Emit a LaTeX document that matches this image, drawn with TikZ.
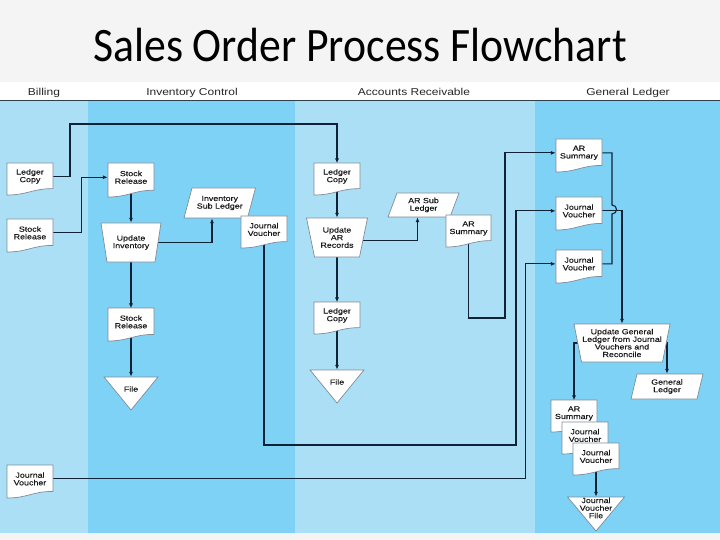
\documentclass[tikz,border=0pt]{standalone}
\usepackage{fontspec}
\setmainfont{Liberation Sans}
\newfontfamily\labfont[FakeStretch=1.2,FakeBold=0.3]{Liberation Sans}
\newfontfamily\headfont[FakeStretch=1.2]{Liberation Sans}
\newfontfamily\titlefont[FakeStretch=0.91]{Carlito}
\usetikzlibrary{arrows.meta,calc}
\pgfdeclarelayer{lanes}
\pgfdeclarelayer{links}
\pgfsetlayers{lanes,links,main}
\definecolor{lightlane}{HTML}{ABDFF6}
\definecolor{midlane}{HTML}{7ED2F5}
\definecolor{pagegray}{HTML}{F4F4F4}
\definecolor{rulecol}{HTML}{2E3F4F}
\definecolor{linkcol}{HTML}{0F2236}
\definecolor{edgecol}{HTML}{7D8C98}
\tikzset{
  shp/.style={draw=edgecol, fill=white, line width=0.7pt, line join=miter},
  txt/.style={font=\labfont\fontsize{7.4}{7.6}\selectfont, align=center, inner sep=0pt, text=black!90},
  link/.style={draw=linkcol, line width=1.1pt},
  arr/.style={link, -{Latex[length=5pt,width=4pt]}},
  lanehead/.style={font=\headfont\fontsize{10}{12}\selectfont, anchor=base, inner sep=0pt, text=black!85},
  titletext/.style={font=\titlefont\fontsize{48}{50}\selectfont, anchor=base, inner sep=0pt, text=black},
}
% document: name, x0, y0, w, h, text
\newcommand\docbox[6]{%
  \filldraw[shp] (#2,#3) -- ({#2+#4},#3) -- ({#2+#4},{#3+0.8*#5})
    .. controls ({#2+0.55*#4},{#3+0.8*#5}) and ({#2+0.45*#4},{#3+#5}) .. (#2,{#3+#5}) -- cycle;
  \node[txt, minimum width=#4, minimum height={0.8*#5}] (#1) at ({#2+#4/2},{#3+0.42*#5}) {#6};
}
% manual operation: name, cx, y0, wtop, wbot, h, text
\newcommand\trapbox[7]{%
  \filldraw[shp] ({#2-#4/2},#3) -- ({#2+#4/2},#3) -- ({#2+#5/2},{#3+#6}) -- ({#2-#5/2},{#3+#6}) -- cycle;
  \node[txt, minimum width=#5, minimum height=#6] (#1) at (#2,{#3+#6/2}) {#7};
}
% ledger parallelogram: name, cx, y0, w, h, slant, text
\newcommand\parabox[7]{%
  \filldraw[shp] ({#2-#4/2+#6/2},#3) -- ({#2+#4/2+#6/2},#3) -- ({#2+#4/2-#6/2},{#3+#5}) -- ({#2-#4/2-#6/2},{#3+#5}) -- cycle;
  \node[txt, minimum width={#4-#6}, minimum height=#5] (#1) at (#2,{#3+#5/2}) {#7};
}
% file triangle: name, cx, y0, w, h, text, text y
\newcommand\tribox[7]{%
  \filldraw[shp] ({#2-#4/2},#3) -- ({#2+#4/2},#3) -- (#2,{#3+#5}) -- cycle;
  \node[txt, minimum width=#4, minimum height=#5] (#1) at (#2,{#3+#5/2}) {};
  \node[txt] (#1-label) at (#2,#7) {#6};
}
\begin{document}
\begin{tikzpicture}[x=1pt,y=-1pt]
\useasboundingbox (0,0) rectangle (720,540);
\begin{pgfonlayer}{lanes}
  \fill[pagegray] (0,0) rectangle (720,540);
  \fill[white] (0,82) rectangle (720,100);
  \fill[lightlane] (0,101) rectangle (88,533);
  \fill[midlane] (88,101) rectangle (295,533);
  \fill[lightlane] (295,101) rectangle (535,533);
  \fill[midlane] (535,101) rectangle (720,533);
  \draw[rulecol, line width=1.4pt] (0,100.5) -- (720,100.5);
\end{pgfonlayer}

\node[titletext] (title) at (360,62) {Sales Order Process Flowchart};
\node[lanehead] (hbill) at (44,95.5) {Billing};
\node[lanehead] (hinv) at (192,95.5) {Inventory Control};
\node[lanehead] (har) at (414,95.5) {Accounts Receivable};
\node[lanehead] (hgl) at (628,95.5) {General Ledger};

% Billing
\docbox{lcB}{7}{163}{46}{32}{Ledger\\Copy}
\docbox{srB}{7}{219}{46}{33}{Stock\\Release}
\docbox{jvB}{7}{465}{46}{33}{Journal\\Voucher}
% Inventory control
\docbox{srI}{108}{163}{46}{34}{Stock\\Release}
\trapbox{upInv}{131}{223}{60}{48}{39}{Update\\Inventory}
\parabox{isl}{219.75}{188}{63.5}{30}{8}{Inventory\\Sub Ledger}
\docbox{jvI}{241}{216}{46}{32}{Journal\\Voucher}
\docbox{srI2}{108}{308}{46}{33}{Stock\\Release}
\tribox{fileI}{131}{377}{54}{33}{File}{389}
% Accounts receivable
\docbox{lcA}{314}{163}{46}{32}{Ledger\\Copy}
\trapbox{upAR}{337}{218}{61}{45}{39}{Update\\AR\\Records}
\parabox{arsl}{423.5}{193}{62}{24}{9}{AR Sub\\Ledger}
\docbox{arsA}{446}{215}{45}{32}{AR\\Summary}
\docbox{lcA2}{314}{302}{46}{32}{Ledger\\Copy}
\tribox{fileA}{337}{370}{54}{33}{File}{382}
% General ledger
\docbox{arsG}{556}{139}{46}{33}{AR\\Summary}
\docbox{jvG1}{556}{197}{46}{33}{Journal\\Voucher}
\docbox{jvG2}{556}{250}{46}{33}{Journal\\Voucher}
\trapbox{upGL}{622}{324}{96}{81}{38}{Update General\\Ledger from Journal\\Vouchers and\\Reconcile}
\parabox{gl}{667}{374}{66}{25}{6}{General\\Ledger}
\docbox{arsS}{551}{400}{46}{32}{AR\\Summary}
\docbox{jvS1}{562}{422}{46}{32}{Journal\\Voucher}
\docbox{jvS2}{573}{443}{46}{32}{Journal\\Voucher}
\tribox{jvFile}{596}{497}{57}{34}{Journal\\Voucher\\File}{508}

\begin{pgfonlayer}{links}
  \draw[arr] (lcB.east) -| (70,124) -| (lcA.north);
  \draw[arr] (srB.east) -| ($(srI.west)+(-26,0)$) -- (srI.west);
  \draw[arr] (srI.south) -- (upInv.north);
  \draw[arr] (upInv.south) -- (srI2.north);
  \draw[arr] (srI2.south) -- (fileI.north);
  \draw[arr] (upInv.east) -| ($(isl.south)+(-7.75,0)$);
  \draw[arr] (jvI.south) |- (516,445) |- (jvG1.west);
  \draw[arr] (jvB.east) -| ($(jvG2.west)+(-30,0)$) -- (jvG2.west);
  \draw[arr] (lcA.south) -- (upAR.north);
  \draw[arr] (upAR.south) -- (lcA2.north);
  \draw[arr] (lcA2.south) -- (fileA.north);
  \draw[arr] ($(upAR.east)+(0,3)$) -| ($(arsl.south)+(-6,0)$);
  \draw[arr] (arsA.south) |- (505,318) |- (arsG.west);
  \draw[link] (arsG.east) -| (612,205) .. controls (618,205) and (618,214) .. (612,214) |- (jvG2.east);
  \draw[arr] (jvG1.east) -| (upGL.north);
  \draw[arr] (upGL.west) -| (arsS.north);
  \draw[arr] (upGL.east) -| (gl.north);
  \draw[arr] (jvS2.south) -- (jvFile.north);
\end{pgfonlayer}
\end{tikzpicture}
\end{document}
